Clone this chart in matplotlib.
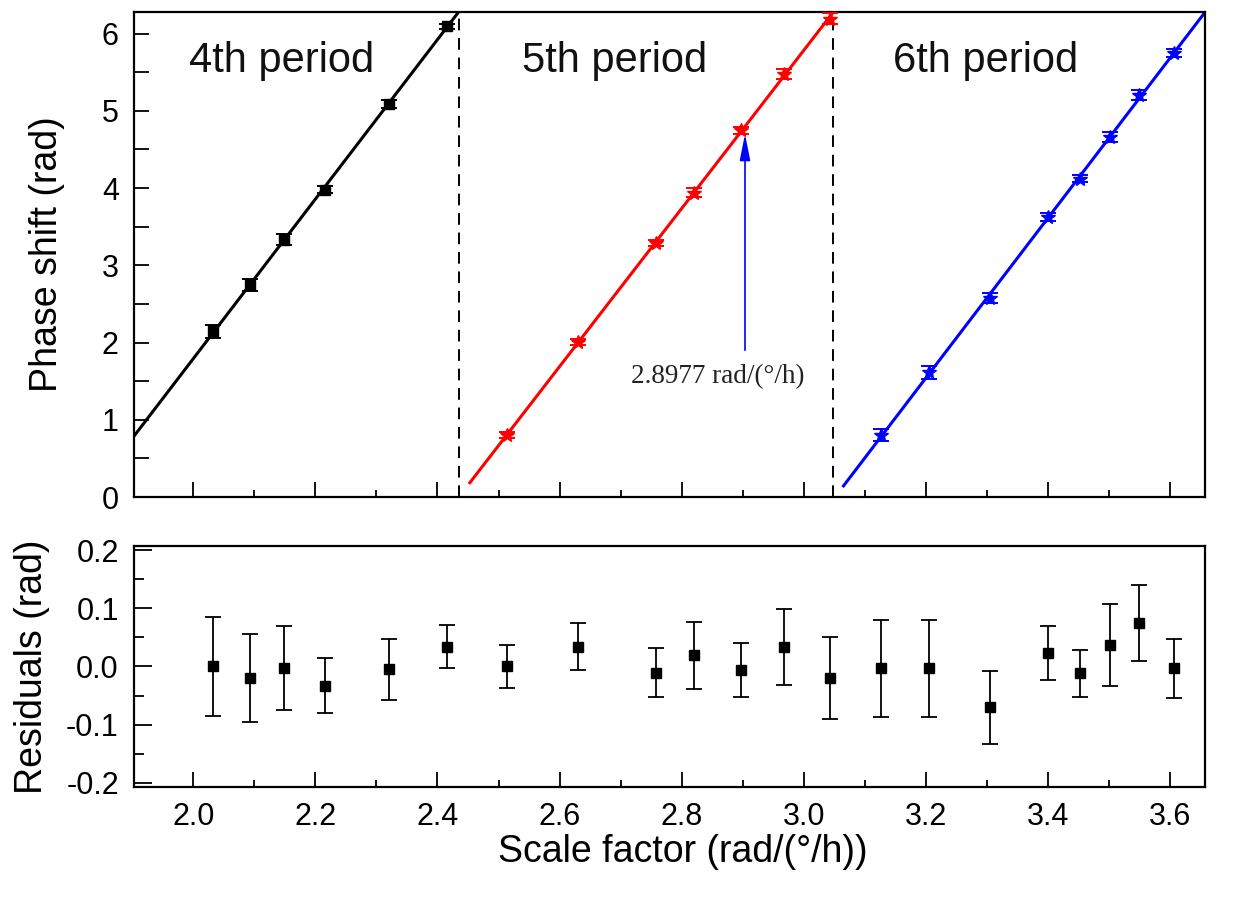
import numpy as np
import matplotlib
matplotlib.use("Agg")
import matplotlib.pyplot as plt
from matplotlib.ticker import MultipleLocator, FormatStrFormatter

plt.rcParams['font.family'] = ['Liberation Sans', 'DejaVu Sans']

# Scale factor (rad/(deg/h)) for each measurement, grouped by period
x_4th = [2.033, 2.093, 2.148, 2.215, 2.320, 2.415]
x_5th = [2.514, 2.630, 2.758, 2.820, 2.8977, 2.967, 3.043]
x_6th = [3.127, 3.205, 3.305, 3.400, 3.452, 3.502, 3.549, 3.607]

# Measured phase shift (rad)
phase_4th = [2.147, 2.743, 3.334, 3.980, 5.093, 6.093]
phase_5th = [0.802, 2.009, 3.290, 3.937, 4.748, 5.481, 6.193]
phase_6th = [0.802, 1.613, 2.578, 3.626, 4.123, 4.661, 5.209, 5.748]

# Residuals of the linear fits (rad)
resid_4th = [0.000, -0.020, -0.002, -0.033, -0.005, 0.034]
resid_5th = [0.000, 0.034, -0.011, 0.019, -0.006, 0.034, -0.020]
resid_6th = [-0.003, -0.003, -0.070, 0.023, -0.012, 0.037, 0.075, -0.003]

# Uncertainties (rad)
err_4th = [0.085, 0.076, 0.072, 0.047, 0.052, 0.037]
err_5th = [0.037, 0.040, 0.042, 0.058, 0.046, 0.065, 0.070]
err_6th = [0.083, 0.083, 0.063, 0.046, 0.041, 0.070, 0.065, 0.051]

period_labels = ['4th period', '5th period', '6th period']
period_bounds = [2.435, 3.048]
marked_sf = 2.8977

fig = plt.figure(figsize=(12.55, 9.02), dpi=100)
ax1 = fig.add_axes([0.1068, 0.449, 0.8533, 0.5377])
ax2 = fig.add_axes([0.1068, 0.1275, 0.8533, 0.2672])

XLIM = (1.903, 3.657)

groups = [
    (x_4th, phase_4th, err_4th, resid_4th, 'black', 's', 7.5, (1.85, 2.5)),
    (x_5th, phase_5th, err_5th, resid_5th, 'red', '*', 10, (2.453, 3.10)),
    (x_6th, phase_6th, err_6th, resid_6th, 'blue', '*', 10, (3.065, 3.75)),
]

for xs, ys, es, rs, col, mk, ms, (x0, x1) in groups:
    xs_a = np.asarray(xs)
    ys_a = np.asarray(ys)
    slope, icpt = np.polyfit(xs_a, ys_a, 1)
    xf = np.array([x0, x1])
    ax1.plot(xf, slope * xf + icpt, color=col, lw=2.2, zorder=2)
    ax1.errorbar(xs, ys, yerr=es, fmt=mk, color=col, ms=ms, capsize=6,
                 elinewidth=1.4, capthick=1.4, zorder=3)
    ax2.errorbar(xs, rs, yerr=es, fmt='s', color='black', ms=7, capsize=6,
                 elinewidth=1.3, capthick=1.3, ecolor='black', zorder=3)

for xb in period_bounds:
    ax1.axvline(xb, color='black', lw=1.4, ls=(0, (6, 4)), zorder=1)

for lbl, xc in zip(period_labels, [2.145, 2.690, 3.297]):
    ax1.text(xc, 5.50, lbl, fontsize=30, ha='center', va='baseline',
             color='#111111')

ax1.annotate('', xy=(marked_sf + 0.006, 4.70), xytext=(marked_sf + 0.006, 1.90),
             arrowprops=dict(arrowstyle='-|>,head_length=0.8,head_width=0.16',
                             color='blue', lw=1.2, mutation_scale=20,
                             shrinkA=0, shrinkB=0))
ax1.text(2.859, 1.479, '2.8977 rad/(°/h)', fontsize=19.5,
         family=['Liberation Serif', 'DejaVu Serif'], ha='center', va='baseline',
         color='#222222')

ax1.set_xlim(*XLIM)
ax1.set_ylim(0, 6.28)
ax2.set_xlim(*XLIM)
ax2.set_ylim(-0.207, 0.207)

for ax in (ax1, ax2):
    ax.xaxis.set_major_locator(MultipleLocator(0.2))
    ax.xaxis.set_minor_locator(MultipleLocator(0.1))
    ax.tick_params(which='both', direction='in', top=False, right=False,
                   width=1.3, labelsize=22, pad=11)
    ax.tick_params(which='major', length=11)
    ax.tick_params(which='minor', length=5)
    for sp in ax.spines.values():
        sp.set_linewidth(1.6)

ax1.yaxis.set_major_locator(MultipleLocator(1))
ax1.yaxis.set_minor_locator(MultipleLocator(0.5))
ax1.tick_params(axis='y', which='minor', length=11)
ax1.tick_params(axis='x', labelbottom=False)

ax2.yaxis.set_major_locator(MultipleLocator(0.1))
ax2.yaxis.set_minor_locator(MultipleLocator(0.05))
ax2.yaxis.set_major_formatter(FormatStrFormatter('%.1f'))
ax2.tick_params(axis='y', which='major', length=13)
ax2.tick_params(axis='y', which='minor', length=7)

ax1.set_ylabel('Phase shift (rad)', fontsize=27, va='center')
ax1.yaxis.set_label_coords(-0.081, 0.5)
ax2.set_ylabel('Residuals (rad)', fontsize=27, va='center')
ax2.yaxis.set_label_coords(-0.095, 0.5)
ax2.set_xlabel('Scale factor (rad/(°/h))', fontsize=27, va='center')
ax2.xaxis.set_label_coords(0.5126, -0.27)

fig.savefig('out.png', dpi=100)
